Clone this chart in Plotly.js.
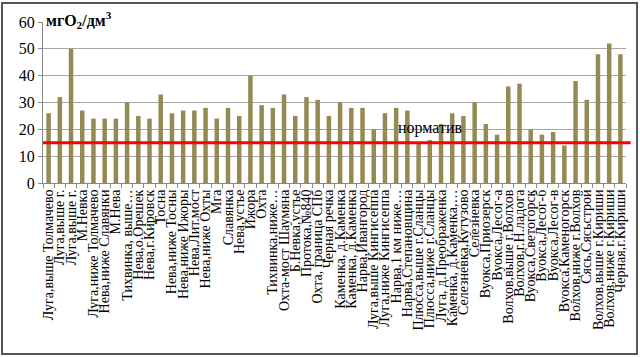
<!DOCTYPE html>
<html>
<head>
<meta charset="utf-8">
<script src="https://cdn.plot.ly/plotly-3.0.1.min.js"></script>
<style>
  html, body { margin: 0; padding: 0; background: #fff; }
  #wrap { position: relative; width: 640px; height: 357px; }
  #chart { position: absolute; left: 0; top: 0; width: 640px; height: 357px; }
  #frame { position: absolute; left: 1px; top: 2px; width: 633px; height: 349px; border: 2px solid #555; pointer-events: none; }
</style>
</head>
<body>
<div id="wrap">
  <div id="chart"></div>
  <div id="frame"></div>
</div>
<script>
const stations = [
  "Луга,выше Толмачево", "Луга,выше г.", "Луга,выше г.", "М.Невка",
  "Луга,ниже Толмачево", "Нева,ниже Славянки", "М.Нева", "Тихвинка, выше…",
  "Нева,о.Орешек", "Нева,г.Кировск", "Тосна", "Нева,ниже Тосны",
  "Нева,ниже Ижоры", "Нева,Лит.мост", "Нева,ниже Охты", "Мга",
  "Славянка", "Нева,устье", "Ижора", "Охта",
  "Тихвинка,ниже…", "Охта-мост Шаумяна", "Б.Невка,устье", "Протока,№840",
  "Охта, граница СПб", "Черная речка", "Каменка, д.Каменка", "Каменка, д.Каменка",
  "Нарва,Ивангород", "Луга,выше Кингисеппа", "Луга,ниже Кингисеппа", "Нарва,1 км ниже…",
  "Нарва,Степановщина", "Плюсса,выше г.Сланцы", "Плюсса,ниже г.Сланцы", "Луга, д.Преображенка",
  "Каменка, д.Каменка,…", "Селезневка,Кутузово", "Селезневка", "Вуокса,Приозерск",
  "Вуокса,Лесог-а", "Волхов,выше г.Волхов", "Волхов,г.Н.ладога", "Вуокса,Светогорск",
  "Вуокса,Лесог-б", "Вуокса,Лесог-в", "Вуокса,Каменогорск", "Волхов,ниже г.Волхов",
  "Сясь,Сясьстрой", "Волхов,выше г.Кириши", "Волхов,ниже г.Кириши", "Черная,г.Кириши"
];
const values = [
  26, 32, 50, 27, 24, 24, 24, 30, 25, 24, 33, 26,
  27, 27, 28, 24, 28, 25, 40, 29, 28, 33, 25, 32,
  31, 25, 30, 28, 28, 20, 26, 28, 27, 15, 16, 22,
  26, 25, 30, 22, 18, 36, 37, 20, 18, 19, 14, 38,
  31, 48, 52, 48
];
const normValue = 15;
const normLabel = "норматив";
const unitTitle = "<b>мгО<sub>2</sub>/дм<sup>3</sup></b>";
const yTicks = [0, 10, 20, 30, 40, 50, 60];

const seen = {};
const cats = stations.map(s => {
  seen[s] = (seen[s] || 0) + 1;
  return s + "\u00A0".repeat(seen[s] - 1);
});

const serif = "Times New Roman";

const data = [{
  type: "bar",
  x: cats,
  y: values,
  marker: { color: "#948A54" },
  hoverinfo: "x+y"
}];

const layout = {
  width: 640, height: 357,
  margin: { l: 43, r: 14, t: 22, b: 174 },
  paper_bgcolor: "rgba(0,0,0,0)",
  plot_bgcolor: "rgba(0,0,0,0)",
  bargap: 0.6,
  showlegend: false,
  font: { family: serif, color: "#000" },
  xaxis: {
    type: "category",
    tickmode: "array",
    tickvals: cats,
    ticktext: stations,
    tickangle: -90,
    tickfont: { family: serif, size: 14, color: "#000" },
    showgrid: false,
    showline: true, linecolor: "#888", linewidth: 1,
    ticks: "outside", ticklen: 4, tickcolor: "#888",
    tickson: "boundaries",
    automargin: false
  },
  yaxis: {
    range: [0, 60],
    tickvals: yTicks,
    ticktext: yTicks.map(String),
    tickfont: { family: serif, size: 16, color: "#000" },
    showgrid: true, gridcolor: "#a6a6a6", gridwidth: 1,
    showline: true, linecolor: "#888", linewidth: 1,
    ticks: "outside", ticklen: 4, tickcolor: "#888",
    zeroline: false,
    automargin: false
  },
  shapes: [{
    type: "line", xref: "paper", yref: "y",
    x0: 0, x1: 1.008, y0: normValue, y1: normValue,
    line: { color: "#ff0000", width: 3 }
  }],
  annotations: [
    {
      xref: "x", yref: "y", x: 34.1, y: normValue + 5.5,
      text: normLabel, showarrow: false,
      font: { family: serif, size: 16, color: "#000" },
      xanchor: "center", yanchor: "middle"
    },
    {
      xref: "paper", yref: "paper", x: 0.002, y: 1.01,
      text: unitTitle, showarrow: false,
      font: { family: serif, size: 16, color: "#000" },
      xanchor: "left", yanchor: "middle"
    }
  ]
};

Plotly.newPlot("chart", data, layout, { displayModeBar: false, staticPlot: true });
</script>
</body>
</html>
